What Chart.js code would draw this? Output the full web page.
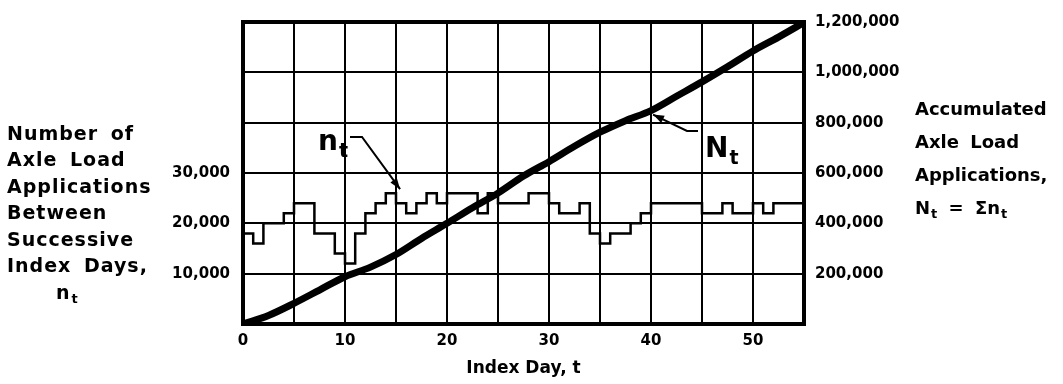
<!DOCTYPE html>
<html>
<head>
<meta charset="utf-8">
<title>Axle load applications by index day</title>
<script src="https://cdn.jsdelivr.net/npm/chart.js@4.4.0/dist/chart.umd.min.js"></script>
<style>
  html, body { margin: 0; padding: 0; background: #fff; }
  #wrap { width: 1063px; height: 384px; }
</style>
</head>
<body>
<div id="wrap"><canvas id="loadChart" width="1063" height="384"></canvas></div>
<script>
// n_t: day on which each step starts, and its value until the next step
const stepDays = [0, 1, 2, 4, 5, 7, 9, 10, 11, 12, 13, 14, 15, 16, 17, 18, 19, 20, 23, 24, 25, 28,
                  30, 31, 33, 34, 35, 36, 38, 39, 40, 45, 47, 48, 50, 51, 52, 53, 55];
const stepValues = [10000, 18000, 16000, 20000, 22000, 24000, 18000, 14000, 12000, 18000, 22000, 24000, 26000, 24000, 22000, 24000, 26000, 24000, 26000, 22000, 26000, 24000,
                    26000, 24000, 22000, 24000, 18000, 16000, 18000, 20000, 22000, 24000, 22000, 24000, 22000, 24000, 22000, 24000, 24000];

// N_t: accumulated applications along the smooth curve
const cumDays = [0, 2.5, 5, 7.5, 10, 12.5, 15, 17.5, 20, 22.5, 25, 27.5, 30, 32.5, 35, 37.5, 40, 42.5, 45, 47.5, 50, 52.5, 55];
const cumValues = [0, 34000, 82000, 135000, 188000, 226000, 276000, 340000, 400000, 462000, 520000, 588000, 645000,
                   706000, 762000, 808000, 848000, 905000, 962000, 1022000, 1085000, 1140000, 1198000];

const dayLabels = [0, 10, 20, 30, 40, 50];
const leftLabels = [10000, 20000, 30000];
const rightLabels = [200000, 400000, 600000, 800000, 1000000, 1200000];

const family = "'DejaVu Sans', sans-serif";
const ink = '#000';

// text with a lowered small "t" after it
function withSub(ctx, base, sub, x, y, size, subSize, drop) {
    ctx.font = `bold ${size}px ${family}`;
    ctx.fillText(base, x, y);
    const w = ctx.measureText(base).width;
    ctx.font = `bold ${subSize}px ${family}`;
    ctx.fillText(sub, x + w + 1, y + drop);
    return x + w + 1 + ctx.measureText(sub).width;
}

function arrow(ctx, pts) {
    ctx.beginPath();
    ctx.moveTo(pts[0][0], pts[0][1]);
    for (let i = 1; i < pts.length; i++) ctx.lineTo(pts[i][0], pts[i][1]);
    ctx.stroke();
    // head at the last point
    const [x1, y1] = pts[pts.length - 2];
    const [x2, y2] = pts[pts.length - 1];
    const ang = Math.atan2(y2 - y1, x2 - x1);
    const len = 11, half = 4;
    ctx.beginPath();
    ctx.moveTo(x2, y2);
    ctx.lineTo(x2 - len * Math.cos(ang) + half * Math.sin(ang), y2 - len * Math.sin(ang) - half * Math.cos(ang));
    ctx.lineTo(x2 - len * Math.cos(ang) - half * Math.sin(ang), y2 - len * Math.sin(ang) + half * Math.cos(ang));
    ctx.closePath();
    ctx.fill();
}

const notes = {
    id: 'notes',
    afterDraw(chart) {
        const { ctx, chartArea: a, scales } = chart;
        ctx.save();
        ctx.strokeStyle = ink;
        ctx.fillStyle = ink;

        // heavy frame round the grid
        ctx.lineWidth = 4;
        ctx.strokeRect(a.left, a.top, a.right - a.left, a.bottom - a.top);

        ctx.textBaseline = 'middle';
        ctx.textAlign = 'left';
        if ('wordSpacing' in ctx) ctx.wordSpacing = '5px';
        if ('letterSpacing' in ctx) ctx.letterSpacing = '1px';

        // left axis title
        ctx.font = `bold 19px ${family}`;
        const leftLines = ['Number of', 'Axle Load', 'Applications', 'Between', 'Successive', 'Index Days,'];
        leftLines.forEach((s, i) => ctx.fillText(s, 7, 135 + i * 26.5));
        withSub(ctx, 'n', 't', 56, 294, 19, 13, 6);

        // right axis title
        if ('letterSpacing' in ctx) ctx.letterSpacing = '0px';
        ctx.font = `bold 18px ${family}`;
        const rx = a.right + 111;
        ['Accumulated', 'Axle Load', 'Applications,'].forEach((s, i) => ctx.fillText(s, rx, 110 + i * 33));
        let px = withSub(ctx, 'N', 't', rx, 209, 18, 13, 6);
        px = withSub(ctx, ' = \u03a3n', 't', px, 209, 18, 13, 6);

        // n_t label and arrow
        ctx.textBaseline = 'alphabetic';
        withSub(ctx, 'n', 't', 318, 150, 28, 19, 7);
        ctx.lineWidth = 2;
        arrow(ctx, [[350, 137], [362, 137],
            [scales.x.getPixelForValue(15.4), scales.yLeft.getPixelForValue(26000) - 4]]);

        // N_t label and arrow
        withSub(ctx, 'N', 't', 705, 157, 28, 19, 7);
        arrow(ctx, [[698, 131], [687, 131],
            [scales.x.getPixelForValue(40.2), scales.yRight.getPixelForValue(848000) + 4]]);

        ctx.restore();
    }
};

const tickFont = { family: family, size: 15, weight: 'bold' };

new Chart(document.getElementById('loadChart'), {
    type: 'line',
    data: {
        datasets: [{
            label: 'n_t',
            data: stepDays.map((d, i) => ({ x: d, y: stepValues[i] })),
            yAxisID: 'yLeft',
            stepped: 'after',
            borderColor: ink,
            borderWidth: 2.5,
            pointRadius: 0,
            fill: false
        }, {
            label: 'N_t',
            data: cumDays.map((d, i) => ({ x: d, y: cumValues[i] })),
            yAxisID: 'yRight',
            borderColor: ink,
            borderWidth: 7,
            borderCapStyle: 'round',
            cubicInterpolationMode: 'monotone',
            pointRadius: 0,
            fill: false
        }]
    },
    options: {
        responsive: false,
        animation: false,
        layout: { padding: { top: 18, left: 0, right: 0, bottom: 0 } },
        plugins: {
            legend: { display: false },
            tooltip: { enabled: false }
        },
        scales: {
            x: {
                type: 'linear',
                min: 0,
                max: 55,
                afterFit: s => { s.height = 60; },
                ticks: {
                    stepSize: 5,
                    autoSkip: false,
                    maxRotation: 0,
                    padding: 8,
                    color: ink,
                    font: tickFont,
                    callback: v => dayLabels.includes(v) ? String(v) : ''
                },
                grid: { color: ink, lineWidth: 2, drawTicks: false },
                border: { display: false },
                title: {
                    display: true,
                    text: 'Index Day, t',
                    color: ink,
                    font: { family: family, size: 17, weight: 'bold' },
                    padding: { top: 0, bottom: 5 }
                }
            },
            yLeft: {
                position: 'left',
                min: 0,
                max: 60000,
                afterFit: s => { s.width = 243; },
                ticks: {
                    stepSize: 10000,
                    padding: 13,
                    color: ink,
                    font: tickFont,
                    callback: v => leftLabels.includes(v) ? v.toLocaleString('en-US') : ''
                },
                grid: { color: ink, lineWidth: 2, drawTicks: false },
                border: { display: false }
            },
            yRight: {
                position: 'right',
                min: 0,
                max: 1200000,
                afterFit: s => { s.width = 259; },
                ticks: {
                    stepSize: 200000,
                    padding: 11,
                    color: ink,
                    font: tickFont,
                    callback: v => rightLabels.includes(v) ? v.toLocaleString('en-US') : ''
                },
                grid: { display: false, drawTicks: false },
                border: { display: false }
            }
        }
    },
    plugins: [notes]
});
</script>
</body>
</html>
